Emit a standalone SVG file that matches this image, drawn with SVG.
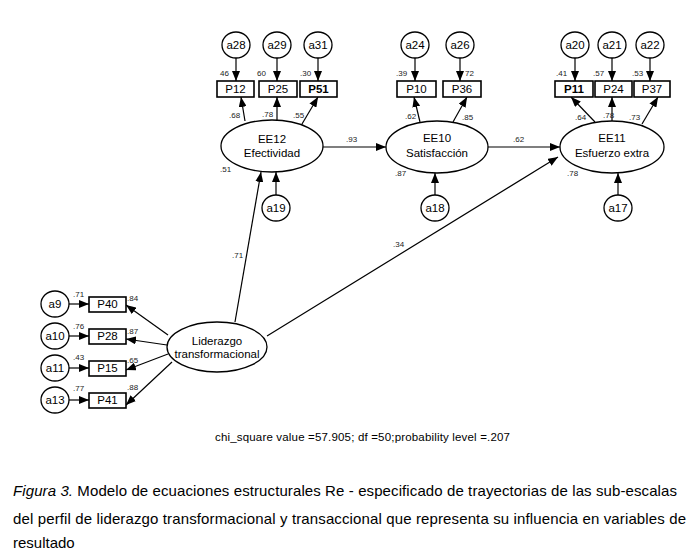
<svg xmlns="http://www.w3.org/2000/svg" width="698" height="556" viewBox="0 0 698 556">
<defs>
<marker id="ah" viewBox="0 0 10 8" refX="10" refY="4" markerWidth="10" markerHeight="8" markerUnits="userSpaceOnUse" orient="auto">
<path d="M0,0 L10,4 L0,8 Z" fill="#000"/>
</marker>
<style>
.n{fill:#fff;stroke:#000;stroke-width:1.3}
.b{fill:#fff;stroke:#000;stroke-width:1.6}
.t{font-family:"Liberation Sans",Arial,sans-serif;font-size:11.5px;fill:#000;text-anchor:middle}
.s{font-family:"Liberation Sans",Arial,sans-serif;font-size:8px;fill:#222}
.c{stroke:#000;stroke-width:1.2;fill:none;marker-end:url(#ah)}
.cap{font-family:"Liberation Sans",Arial,sans-serif;font-size:15px;fill:#000}
</style>
</defs>
<rect width="698" height="556" fill="#fff"/>
<g id="connectors">
<path class="c" d="M236,58 V81"/><path class="c" d="M277,58 V81"/><path class="c" d="M318,58 V81"/>
<path class="c" d="M415,58 V81"/><path class="c" d="M460,58 V81"/>
<path class="c" d="M575,58 V81"/><path class="c" d="M612,58 V81"/><path class="c" d="M650,58 V81"/>
<path class="c" d="M245,121 L241,97"/><path class="c" d="M277,120 V97"/><path class="c" d="M302,124 L318,97"/>
<path class="c" d="M420,122 L414,97"/><path class="c" d="M453,122 L467,97"/>
<path class="c" d="M595,122 L571,97"/><path class="c" d="M612,121 V97"/><path class="c" d="M642,124 L658,97"/>
<path class="c" d="M323,147 H386"/><path class="c" d="M488,147 H560"/>
<path class="c" d="M276,195 V172"/><path class="c" d="M435,195 V173"/><path class="c" d="M618,195 V173"/>
<path class="c" d="M235,322 L261,172"/><path class="c" d="M267,336 L558,157"/>
<path class="c" d="M69,304 H89"/><path class="c" d="M69,336 H89"/><path class="c" d="M69,368 H89"/><path class="c" d="M69,400 H89"/>
<path class="c" d="M168,335 L126,305"/><path class="c" d="M167,345 L126,339"/><path class="c" d="M168,354 L126,370"/><path class="c" d="M172,362 L126,405"/>
</g>
<g id="labels">
<text class="s" x="220" y="76">46</text><text class="s" x="257" y="76">60</text><text class="s" x="300" y="76">.30</text>
<text class="s" x="229" y="118">.68</text><text class="s" x="262" y="117">.78</text><text class="s" x="293" y="118">.55</text>
<text class="s" x="220" y="172">.51</text><text class="s" x="346" y="142">.93</text>
<text class="s" x="396" y="76">.39</text><text class="s" x="465" y="76">72</text>
<text class="s" x="405" y="119">.62</text><text class="s" x="462" y="120">.85</text>
<text class="s" x="395" y="176">.87</text><text class="s" x="513" y="142">.62</text><text class="s" x="567" y="176">.78</text>
<text class="s" x="556" y="76">.41</text><text class="s" x="593" y="76">.57</text><text class="s" x="632" y="76">.53</text>
<text class="s" x="575" y="120">.64</text><text class="s" x="603" y="118">.78</text><text class="s" x="629" y="120">.73</text>
<text class="s" x="232" y="258">.71</text><text class="s" x="393" y="247">.34</text>
<text class="s" x="73" y="297">.71</text><text class="s" x="73" y="329">.76</text><text class="s" x="73" y="360">.43</text><text class="s" x="73" y="391">.77</text>
<text class="s" x="127" y="301">.84</text><text class="s" x="127" y="334">.87</text><text class="s" x="127" y="363">.65</text><text class="s" x="127" y="390">.88</text>
</g>
<g id="a28"><ellipse class="n" cx="236" cy="45" rx="14" ry="13"/><text class="t" x="236" y="49">a28</text></g>
<g id="a29"><ellipse class="n" cx="277" cy="45" rx="14" ry="13"/><text class="t" x="277" y="49">a29</text></g>
<g id="a31"><ellipse class="n" cx="318" cy="45" rx="14" ry="13"/><text class="t" x="318" y="49">a31</text></g>
<g id="a24"><ellipse class="n" cx="415" cy="45" rx="14" ry="13"/><text class="t" x="415" y="49">a24</text></g>
<g id="a26"><ellipse class="n" cx="460" cy="45" rx="14" ry="13"/><text class="t" x="460" y="49">a26</text></g>
<g id="a20"><ellipse class="n" cx="575" cy="45" rx="14" ry="13"/><text class="t" x="575" y="49">a20</text></g>
<g id="a21"><ellipse class="n" cx="612" cy="45" rx="14" ry="13"/><text class="t" x="612" y="49">a21</text></g>
<g id="a22"><ellipse class="n" cx="650" cy="45" rx="14" ry="13"/><text class="t" x="650" y="49">a22</text></g>
<g id="P12"><rect class="b" x="217" y="81" width="37" height="16"/><text class="t" x="235.5" y="93">P12</text></g>
<g id="P25"><rect class="b" x="259" y="81" width="38" height="16"/><text class="t" x="278" y="93">P25</text></g>
<g id="P51"><rect class="b" x="300" y="81" width="37" height="16"/><text class="t" x="318.5" y="93" font-weight="bold">P51</text></g>
<g id="P10"><rect class="b" x="397" y="81" width="39" height="16"/><text class="t" x="416.5" y="93">P10</text></g>
<g id="P36"><rect class="b" x="443" y="81" width="38" height="16"/><text class="t" x="462" y="93">P36</text></g>
<g id="P11"><rect class="b" x="555" y="81" width="38" height="16"/><text class="t" x="574" y="93" font-weight="bold">P11</text></g>
<g id="P24"><rect class="b" x="595" y="81" width="37" height="16"/><text class="t" x="613.5" y="93">P24</text></g>
<g id="P37"><rect class="b" x="634" y="81" width="36" height="16"/><text class="t" x="652" y="93">P37</text></g>
<g id="EE12"><ellipse class="n" cx="272" cy="146" rx="51" ry="26"/><text class="t" x="272" y="143">EE12</text><text class="t" x="272" y="157">Efectividad</text></g>
<g id="EE10"><ellipse class="n" cx="437" cy="147" rx="51" ry="26"/><text class="t" x="437" y="142">EE10</text><text class="t" x="437" y="157">Satisfacción</text></g>
<g id="EE11"><ellipse class="n" cx="612" cy="147" rx="52" ry="26"/><text class="t" x="612" y="142">EE11</text><text class="t" x="612" y="157">Esfuerzo extra</text></g>
<g id="a19"><ellipse class="n" cx="276" cy="208" rx="14" ry="13"/><text class="t" x="276" y="212">a19</text></g>
<g id="a18"><ellipse class="n" cx="435" cy="208" rx="14" ry="13"/><text class="t" x="435" y="212">a18</text></g>
<g id="a17"><ellipse class="n" cx="618" cy="208" rx="14" ry="13"/><text class="t" x="618" y="212">a17</text></g>
<g id="Liderazgo"><ellipse class="n" cx="217" cy="347" rx="50" ry="25"/><text class="t" x="217" y="345">Liderazgo</text><text class="t" x="217" y="358">transformacional</text></g>
<g id="a9"><ellipse class="n" cx="55" cy="304" rx="14" ry="13"/><text class="t" x="55" y="308">a9</text></g>
<g id="a10"><ellipse class="n" cx="55" cy="336" rx="14" ry="13"/><text class="t" x="55" y="340">a10</text></g>
<g id="a11"><ellipse class="n" cx="55" cy="368" rx="14" ry="13"/><text class="t" x="55" y="372">a11</text></g>
<g id="a13"><ellipse class="n" cx="55" cy="400" rx="14" ry="13"/><text class="t" x="55" y="404">a13</text></g>
<g id="P40"><rect class="b" x="89" y="297" width="37" height="15"/><text class="t" x="107.5" y="308">P40</text></g>
<g id="P28"><rect class="b" x="89" y="329" width="37" height="15"/><text class="t" x="107.5" y="340">P28</text></g>
<g id="P15"><rect class="b" x="89" y="361" width="37" height="15"/><text class="t" x="107.5" y="372">P15</text></g>
<g id="P41"><rect class="b" x="89" y="393" width="37" height="15"/><text class="t" x="107.5" y="404">P41</text></g>
<text x="215" y="441" font-family="Liberation Sans, Arial, sans-serif" font-size="11.5" textLength="295">chi_square value =57.905; df =50;probability level =.207</text>
<g id="caption">
<text class="cap" x="13" y="496" textLength="664"><tspan font-style="italic">Figura 3.</tspan> Modelo de ecuaciones estructurales Re - especificado de trayectorias de las sub-escalas</text>
<text class="cap" x="13" y="524" textLength="673">del perfil de liderazgo transformacional y transaccional que representa su influencia en variables de</text>
<text class="cap" x="13" y="548">resultado</text>
</g>
</svg>
